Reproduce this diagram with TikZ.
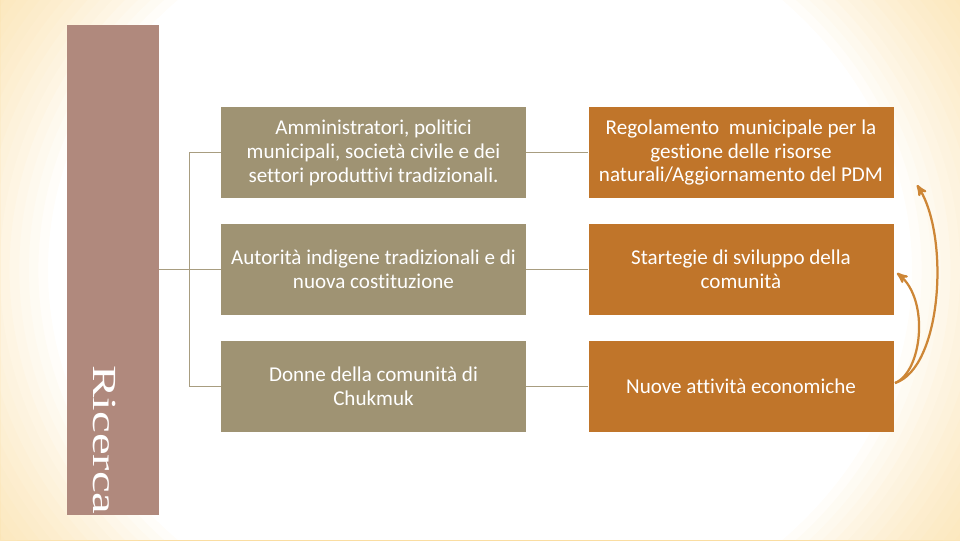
\documentclass[tikz,border=0pt]{standalone}
\usepackage{fontspec}
\setmainfont{Carlito}[Ligatures=CommonOff]
\newfontfamily\ricfont{Liberation Serif}
\usepackage{tikz}
\usetikzlibrary{calc}
\usetikzlibrary{arrows}
\definecolor{barpink}{HTML}{B0897D}
\definecolor{boxgray}{HTML}{9F9373}
\definecolor{boxorange}{HTML}{C0752A}
\definecolor{linkgray}{HTML}{A89D80}
\definecolor{arroworange}{HTML}{CD8636}
\definecolor{glow}{HTML}{F9D488}

\begin{document}
\begin{tikzpicture}[
	grbox/.style={fill=boxgray,text=white,minimum width=7.625cm,minimum height=2.275cm,align=center,inner sep=0pt,font=\fontsize{15}{17}\selectfont},
	orbox/.style={grbox,fill=boxorange},
	link/.style={draw=linkgray,line width=0.8pt},
	loop/.style={draw=arroworange,line width=1.6pt,-stealth'}]
	\useasboundingbox (0,0) rectangle (24,13.5);
	\foreach \s in {0.9,0.92,...,1.5}
		\fill[glow,opacity=0.05,even odd rule] (0,0) rectangle (24,13.5) (12,6.75) ellipse ({12*\s} and {10.5*\s});
	\node[fill=barpink,minimum width=2.3cm,minimum height=12.25cm,inner sep=0pt] (bar) at (2.825,6.75) {};
	\node[rotate=-90,anchor=base west,inner sep=0pt,text=white,font=\ricfont\fontsize{24}{26}\selectfont] (ricerca) at (2.325,4.375) {\scalebox{1.45}[1]{Ricerca}};
	\node[grbox] (l1) at (9.3375,9.6875) {Amministratori, politici\\municipali, società civile e dei\\settori produttivi tradizionali.};
	\node[grbox] (l2) at (9.3375,6.7625) {Autorità indigene tradizionali e di\\nuova costituzione};
	\node[grbox] (l3) at (9.3375,3.8375) {Donne della comunità di\\Chukmuk};
	\node[orbox] (r1) at (18.525,9.6875) {Regolamento\ \ municipale per la\\gestione delle risorse\\naturali/Aggiornamento del PDM};
	\node[orbox] (r2) at (18.525,6.7625) {Startegie di sviluppo della\\comunità};
	\node[orbox] (r3) at (18.525,3.8375) {Nuove attività economiche};
	\draw[link] (l2.west -| bar.east) -- (l2.west);
	\draw[link] (l1.west) -- ++(-0.775,0) |- (l3.west);
	\foreach \i in {1,2,3}
		\draw[link] (l\i.east) -- (r\i.east -| r\i.west);
	\coordinate (start) at (22.375,3.925);
	\coordinate (top) at (22.925,8.875);
	\coordinate (mid) at (22.425,6.675);
	\draw[loop] (start) .. controls (23.55,4.3) and (23.75,7.6) .. (top);
	\draw[loop] (start) .. controls (23.05,4.2) and (23.25,6.0) .. (mid);
\end{tikzpicture}
\end{document}
